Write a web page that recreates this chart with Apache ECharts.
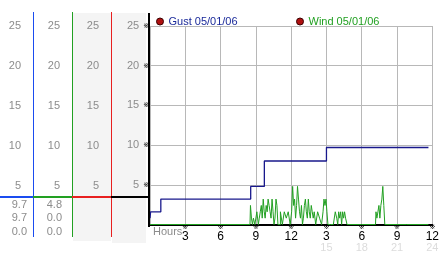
<!DOCTYPE html>
<html>
<head>
<meta charset="utf-8">
<script src="https://cdn.jsdelivr.net/npm/echarts@6/dist/echarts.min.js"></script>
<style>html,body{margin:0;padding:0;background:#fff}#c{width:442px;height:253px}</style>
</head>
<body>
<div id="c"></div>
<script>
// ---- data ----
const xTickLabels = ['', '3', '6', '9', '12', '3', '6', '9', '12'];
const xTickLabels24 = ['', '', '', '', '', '15', '18', '21', '24'];
const yTickLabels = ['', '5', '10', '15', '20', '25'];

const gustName = 'Gust 05/01/06';
const windName = 'Wind 05/01/06';

const gustHours  = [0, 0.05, 0.92, 8.56, 9.72, 15.0, 23.67];
const gustValues = [0.8, 1.6, 3.2, 4.8, 8.0, 9.7, 9.7];

const windHours = [0, 8.50, 8.58, 8.67, 8.75, 8.83, 9.00, 9.17, 9.25, 9.33, 9.42, 9.50, 9.58, 9.67, 9.75, 9.83, 9.92, 10.00,
  10.08, 10.17, 10.25, 10.33, 10.42, 10.50, 10.58, 10.67, 10.75, 10.83, 10.92, 11.00, 11.17, 11.33, 11.50, 11.67, 11.83, 12.00,
  12.08, 12.17, 12.25, 12.33, 12.42, 12.50, 12.58, 12.67, 12.75, 12.83, 12.92, 13.00, 13.08, 13.17, 13.25, 13.33, 13.42, 13.50,
  13.58, 13.67, 13.75, 13.83, 13.92, 14.00, 14.17, 14.33, 14.50, 14.67, 14.75, 14.83, 14.92, 15.00, 15.08, 15.17, 15.33,
  15.50, 15.67, 15.83, 15.92, 16.00, 16.08, 16.17, 16.25, 16.33, 16.42, 16.50, 16.58, 16.67, 16.83,
  19.17, 19.25, 19.33, 19.42, 19.50, 19.58, 19.67, 19.75, 19.83, 19.92, 20.00, 23.67];
const windValues = [0, 0, 2.4, 0.8, 0, 0.8, 0, 1.6, 0, 0.8, 1.6, 2.4, 0.8, 3.2, 1.6, 0.8, 2.4, 1.6,
  3.2, 2.4, 1.6, 0.8, 3.2, 1.6, 0, 0.8, 3.2, 2.4, 0, 0, 1.6, 0, 1.6, 0.8, 1.6, 0,
  1.6, 4.8, 2.4, 3.2, 0.8, 2.4, 4.8, 3.2, 1.6, 0.8, 2.4, 0, 0.8, 2.4, 3.2, 1.6, 0.8, 3.2,
  1.6, 0.8, 2.4, 1.6, 0.8, 1.6, 0, 1.6, 0.8, 0, 1.6, 3.2, 2.4, 3.2, 1.6, 0, 0,
  0, 0, 1.6, 0.8, 0, 1.6, 0.8, 1.6, 0, 1.6, 0.8, 1.6, 0.8, 0,
  0, 1.6, 0.8, 1.6, 2.4, 0.8, 2.4, 3.2, 4.8, 2.4, 0, 0];

const gustStats = ['9.7', '9.7', '0.0'];
const windStats = ['4.8', '0.0', '0.0'];

// ---- chart ----
const chart = echarts.init(document.getElementById('c'), null, {renderer: 'canvas'});
const FONT = 'Liberation Sans';
const GRAY = '#8c8c8c';
const BLUE = '#1a4cf0';
const GREEN = '#22a022';
const RED = '#e82020';

function colAxis(gi) {
  return {
    type: 'value', gridIndex: gi, min: 0, max: 25, interval: 5,
    axisLine: {show: false}, axisTick: {show: false}, splitLine: {show: false},
    axisLabel: {margin: 12, color: GRAY, fontFamily: FONT, fontSize: 11,
      formatter: v => yTickLabels[Math.round(v / 5)] || ''}
  };
}
function hiddenX(gi) {
  return {type: 'value', gridIndex: gi, show: false, min: 0, max: 1,
    axisLine: {show: false}, splitLine: {show: false}, axisTick: {show: false}, axisLabel: {show: false}};
}

const statTexts = [];
[[gustStats, 27], [windStats, 62]].forEach(([arr, xr]) => {
  const ys = [205, 218, 232];
  arr.forEach((t, i) => statTexts.push({
    type: 'text', x: xr, y: ys[i],
    style: {text: t, fill: GRAY, font: '11px "' + FONT + '"', align: 'right', verticalAlign: 'middle'}
  }));
});

function box(x, y, w, h, color, z) {
  return {type: 'rect', shape: {x: x, y: y, width: w, height: h}, style: {fill: color}, z: z, zlevel: 1, silent: true};
}

const option = {
  animation: false,
  backgroundColor: '#fff',
  grid: [
    {left: 150, top: 26, width: 288, height: 200},
    {left: 33, top: 26, width: 1, height: 200, show: false},
    {left: 72, top: 26, width: 1, height: 200, show: false},
    {left: 111, top: 26, width: 1, height: 200, show: false}
  ],
  legend: [
    {left: 156, top: 16, padding: 0, icon: 'circle', itemWidth: 7, itemHeight: 7, itemGap: 5,
      data: [{name: gustName, itemStyle: {color: '#b01010', borderColor: '#3a0000', borderWidth: 1}}],
      textStyle: {color: '#1a2a9a', fontFamily: FONT, fontSize: 11}},
    {left: 296, top: 16, padding: 0, icon: 'circle', itemWidth: 7, itemHeight: 7, itemGap: 5,
      data: [{name: windName, itemStyle: {color: '#b01010', borderColor: '#3a0000', borderWidth: 1}}],
      textStyle: {color: GREEN, fontFamily: FONT, fontSize: 11}}
  ],
  xAxis: [
    {type: 'value', gridIndex: 0, min: 0, max: 24, interval: 3,
      axisLine: {show: true, lineStyle: {color: '#000', width: 2}},
      axisTick: {show: false},
      splitLine: {show: true, lineStyle: {color: '#b8b8b8', width: 1}},
      axisLabel: {margin: 0, showMinLabel: true, showMaxLabel: true,
        formatter: v => {
          const i = Math.round(v / 3);
          if (!xTickLabels[i]) return '';
          let s = '{m|※}\n{v|' + xTickLabels[i] + '}';
          if (xTickLabels24[i]) s += '\n{f|' + xTickLabels24[i] + '}';
          return s;
        },
        rich: {
          m: {fontSize: 7, lineHeight: 6, color: '#000', fontFamily: 'DejaVu Sans'},
          v: {fontSize: 12, lineHeight: 12, color: '#000', fontFamily: FONT},
          f: {fontSize: 11, lineHeight: 10, color: '#dcdcdc', fontFamily: FONT}
        }}},
    hiddenX(1), hiddenX(2), hiddenX(3)
  ],
  yAxis: [
    {type: 'value', gridIndex: 0, min: 0, max: 25, interval: 5,
      axisLine: {show: false}, axisTick: {show: false},
      splitLine: {show: true, lineStyle: {color: '#b8b8b8', width: 1}},
      axisLabel: {margin: 1,
        formatter: v => {
          const t = yTickLabels[Math.round(v / 5)];
          return t ? '{v|' + t + '}{m|※}' : '';
        },
        rich: {
          v: {fontSize: 11, color: GRAY, fontFamily: FONT, verticalAlign: 'middle'},
          m: {fontSize: 7, color: '#000', fontFamily: 'DejaVu Sans', padding: [0, 0, 0, 4], verticalAlign: 'middle'}
        }}},
    colAxis(1), colAxis(2), colAxis(3)
  ],
  series: [
    {name: gustName, type: 'line', xAxisIndex: 0, yAxisIndex: 0, step: 'end',
      showSymbol: false, symbol: 'none', z: 4,
      lineStyle: {color: '#18188c', width: 1.3}, itemStyle: {color: '#18188c'},
      data: gustHours.map((h, i) => [h, gustValues[i]])},
    {name: windName, type: 'line', xAxisIndex: 0, yAxisIndex: 0, step: 'middle',
      showSymbol: false, symbol: 'none', z: 3,
      lineStyle: {color: GREEN, width: 1}, itemStyle: {color: GREEN},
      data: windHours.map((h, i) => [h, windValues[i]])}
  ],
  graphic: [
    {type: 'rect', shape: {x: 73, y: 13, width: 38, height: 228}, style: {fill: '#f4f4f4'}, z: -10, silent: true},
    {type: 'rect', shape: {x: 112, y: 13, width: 34, height: 230}, style: {fill: '#f4f4f4'}, z: -10, silent: true},
    box(33, 12, 1, 225, BLUE, 50),
    box(72, 12, 1, 225, GREEN, 50),
    box(111, 12, 1, 225, RED, 50),
    box(148, 13, 2, 214, '#000', 50),
    box(0, 196, 33, 2, BLUE, 50),
    box(33, 196, 39, 2, GREEN, 50),
    box(72, 196, 39, 2, RED, 50),
    box(111, 196, 38, 2, '#000', 50),
    {type: 'text', x: 153, y: 232, style: {text: 'Hours', fill: GRAY, font: '11px "' + FONT + '"', verticalAlign: 'middle'}, z: 60}
  ].concat(statTexts)
};
chart.setOption(option);
</script>
</body>
</html>
